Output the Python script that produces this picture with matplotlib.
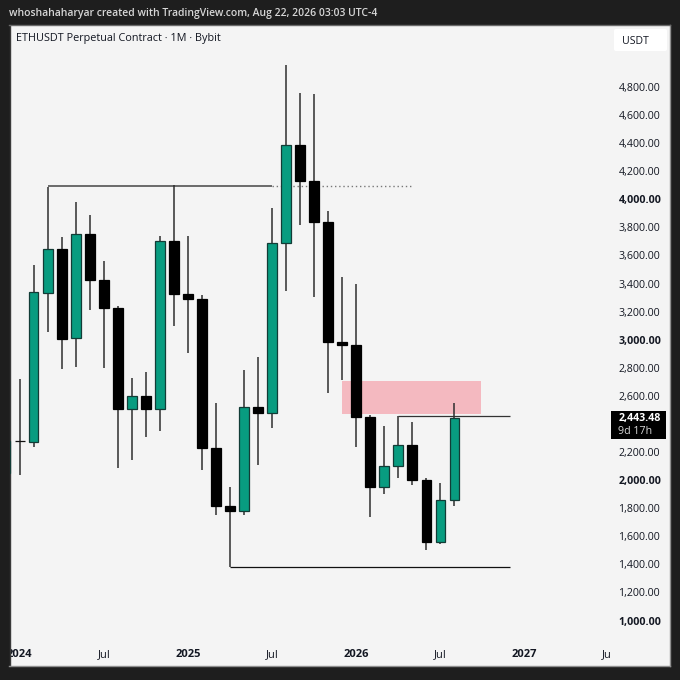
import matplotlib
matplotlib.use("Agg")
import matplotlib.pyplot as plt
from matplotlib.patches import Rectangle, FancyBboxPatch
from matplotlib.transforms import Bbox, TransformedBbox

plt.rcParams['font.family'] = ['Open Sans', 'DejaVu Sans']

# monthly candles, Dec 2023 .. Aug 2026 (index -1 .. 31)
index = list(range(-1, 32))
opens = [2048, 2280, 2273, 3335, 3644, 3010, 3755, 3427, 3224, 2504, 2597, 2509, 3703, 3328, 3288, 2229, 1818,
         1782, 2519, 2478, 3689, 4385, 4130, 3838, 2981, 2964, 2446, 1953, 2098, 2250, 1999, 1561, 1856]
closes = [2278, 2278, 3338, 3644, 3007, 3755, 3427, 3224, 2504, 2597, 2509, 3703, 3328, 3288, 2229, 1818, 1782,
          2519, 2478, 3689, 4385, 4130, 3838, 2981, 2964, 2446, 1953, 2098, 2250, 1999, 1561, 1856, 2443.48]
highs = [2278, 2718, 3530, 4090, 3729, 3981, 3888, 3558, 3240, 2725, 2770, 3736, 4102, 3736, 3320, 2547, 1951,
         2782, 2875, 3940, 4954, 4757, 4750, 3915, 3444, 3397, 2466, 2383, 2459, 2414, 2015, 1977, 2549]
lows = [2048, 2036, 2234, 3053, 2789, 2808, 3209, 2796, 2084, 2143, 2307, 2352, 3100, 2907, 2070, 1749, 1379,
        1749, 2108, 2371, 3347, 3819, 3306, 2620, 2713, 2234, 1737, 1899, 2013, 1965, 1500, 1547, 1816]

price_ticks = [1000, 1200, 1400, 1600, 1800, 2000, 2200, 2600, 2800, 3000, 3200, 3400, 3600, 3800, 4000, 4200, 4400, 4600, 4800]
bold_prices = [1000, 2000, 3000, 4000]
time_ticks = [0, 6, 12, 18, 24, 30, 36, 42]
time_labels = ['2024', 'Jul', '2025', 'Jul', '2026', 'Jul', '2027', 'Jul']

sweep_high = 4092
sweep_low = 1379
range_high = 2459
zone_low, zone_high = 2471, 2706
last_price = 2443.48

BG = '#1e1e1e'
PANE = '#f4f4f4'
GREEN = '#089c80'
INK = '#131722'

W = 680
def fx(x):
    return x / W
def fy(y):
    return 1 - y / W

fig = plt.figure(figsize=(6.8, 6.8), dpi=100, facecolor=BG)
L, R, T, B = 9.5, 670, 25, 666
ax = fig.add_axes([fx(L), fy(B), (R - L) / W, (B - T) / W], facecolor=PANE)
ax.set_xlim((L - 19.7) / 14.02, (R - 19.7) / 14.02)
ax.set_ylim(1000 + (620.5 - B) * 7.1225, 1000 + (620.5 - T) * 7.1225)

for s in ax.spines.values():
    s.set_color('#8f8f8f')
    s.set_linewidth(1.0)
ax.spines['left'].set_color('#3a3a3a')
ax.spines['top'].set_color('#6a6a6a')

# zone
ax.add_patch(Rectangle((23, zone_low), 9.93, zone_high - zone_low, facecolor='#f4b9c0', edgecolor='none', zorder=1))

# levels
ax.plot([2, 18], [sweep_high, sweep_high], color='#444444', lw=1.1, zorder=2, solid_capstyle='butt')
ax.plot([18, 28], [sweep_high, sweep_high], color='#777777', lw=1.0, ls=(0, (1, 2.0)), zorder=2)
ax.plot([15, 35], [sweep_low, sweep_low], color='#111111', lw=0.9, zorder=2, solid_capstyle='butt')
ax.plot([27, 35], [range_high, range_high], color='#333333', lw=0.9, zorder=2, solid_capstyle='butt')

# candles
for i, o, c, h, l in zip(index, opens, closes, highs, lows):
    ax.vlines(i, l, h, color='#2e2e2e', lw=1.1, zorder=3)
for i, o, c in zip(index, opens, closes):
    up = c > o and abs(c - o) > 5
    bottom = min(o, c)
    height = max(abs(c - o), 1)
    if abs(c - o) < 5:
        ax.hlines(o, i - 0.36, i + 0.36, color='#111111', lw=0.9, zorder=4)
        continue
    ax.bar(i, height, bottom=bottom, width=0.68, color=GREEN if up else '#000000',
           edgecolor='#123c36' if up else '#000000', linewidth=0.9, zorder=4)

# price axis
ax.yaxis.tick_right()
ax.set_yticks(price_ticks)
ax.set_yticklabels([f"{p:,.2f}" for p in price_ticks])
ax.tick_params(axis='y', length=0, pad=-37.1, labelsize=7.7, labelcolor=INK)
for lab, p in zip(ax.get_yticklabels(), price_ticks):
    lab.set_ha('left')
    if p in bold_prices:
        lab.set_fontweight('bold')

# time axis
clip = TransformedBbox(Bbox([[fx(L), 0], [fx(610), 1]]), fig.transFigure)
ax.set_xticks(time_ticks)
ax.set_xticklabels(time_labels)
ax.tick_params(axis='x', length=0, pad=-12, labelsize=8.0, labelcolor=INK)
for lab, t in zip(ax.get_xticklabels(), time_labels):
    lab.set_clip_on(True)
    lab.set_clip_box(clip)
    if t != 'Jul':
        lab.set_fontweight('bold')

# header texts
fig.text(fx(9), fy(13.5), 'whoshahaharyar created with TradingView.com, Aug 22, 2026 03:03 UTC-4',
         color='#d6d6d6', fontsize=7.45, va='center', ha='left', fontweight='semibold')
fig.text(fx(16.5), fy(38.5), 'ETHUSDT Perpetual Contract · 1M · Bybit',
         color=INK, fontsize=7.8, va='center', ha='left')

# USDT button
fig.add_artist(FancyBboxPatch((fx(616), fy(49)), 49 / W, 18 / W, boxstyle=f"round,pad={2/W},rounding_size={2/W}",
                              transform=fig.transFigure, facecolor='white', edgecolor='none'))
fig.text(fx(622), fy(41), 'USDT', color=INK, fontsize=7.6, va='center', ha='left')

# last-price tag
fig.add_artist(Rectangle((fx(611), fy(439)), 55 / W, 28.3 / W, transform=fig.transFigure, facecolor='#000000', edgecolor='none'))
fig.text(fx(618.5), fy(418), f"{last_price:,.2f}", color='white', fontsize=7.7, fontweight='bold', va='center', ha='left')
fig.text(fx(618.5), fy(431), '9d 17h', color='#d8d8d8', fontsize=7.7, va='center', ha='left')

fig.savefig('out.png', dpi=100, facecolor=BG)
